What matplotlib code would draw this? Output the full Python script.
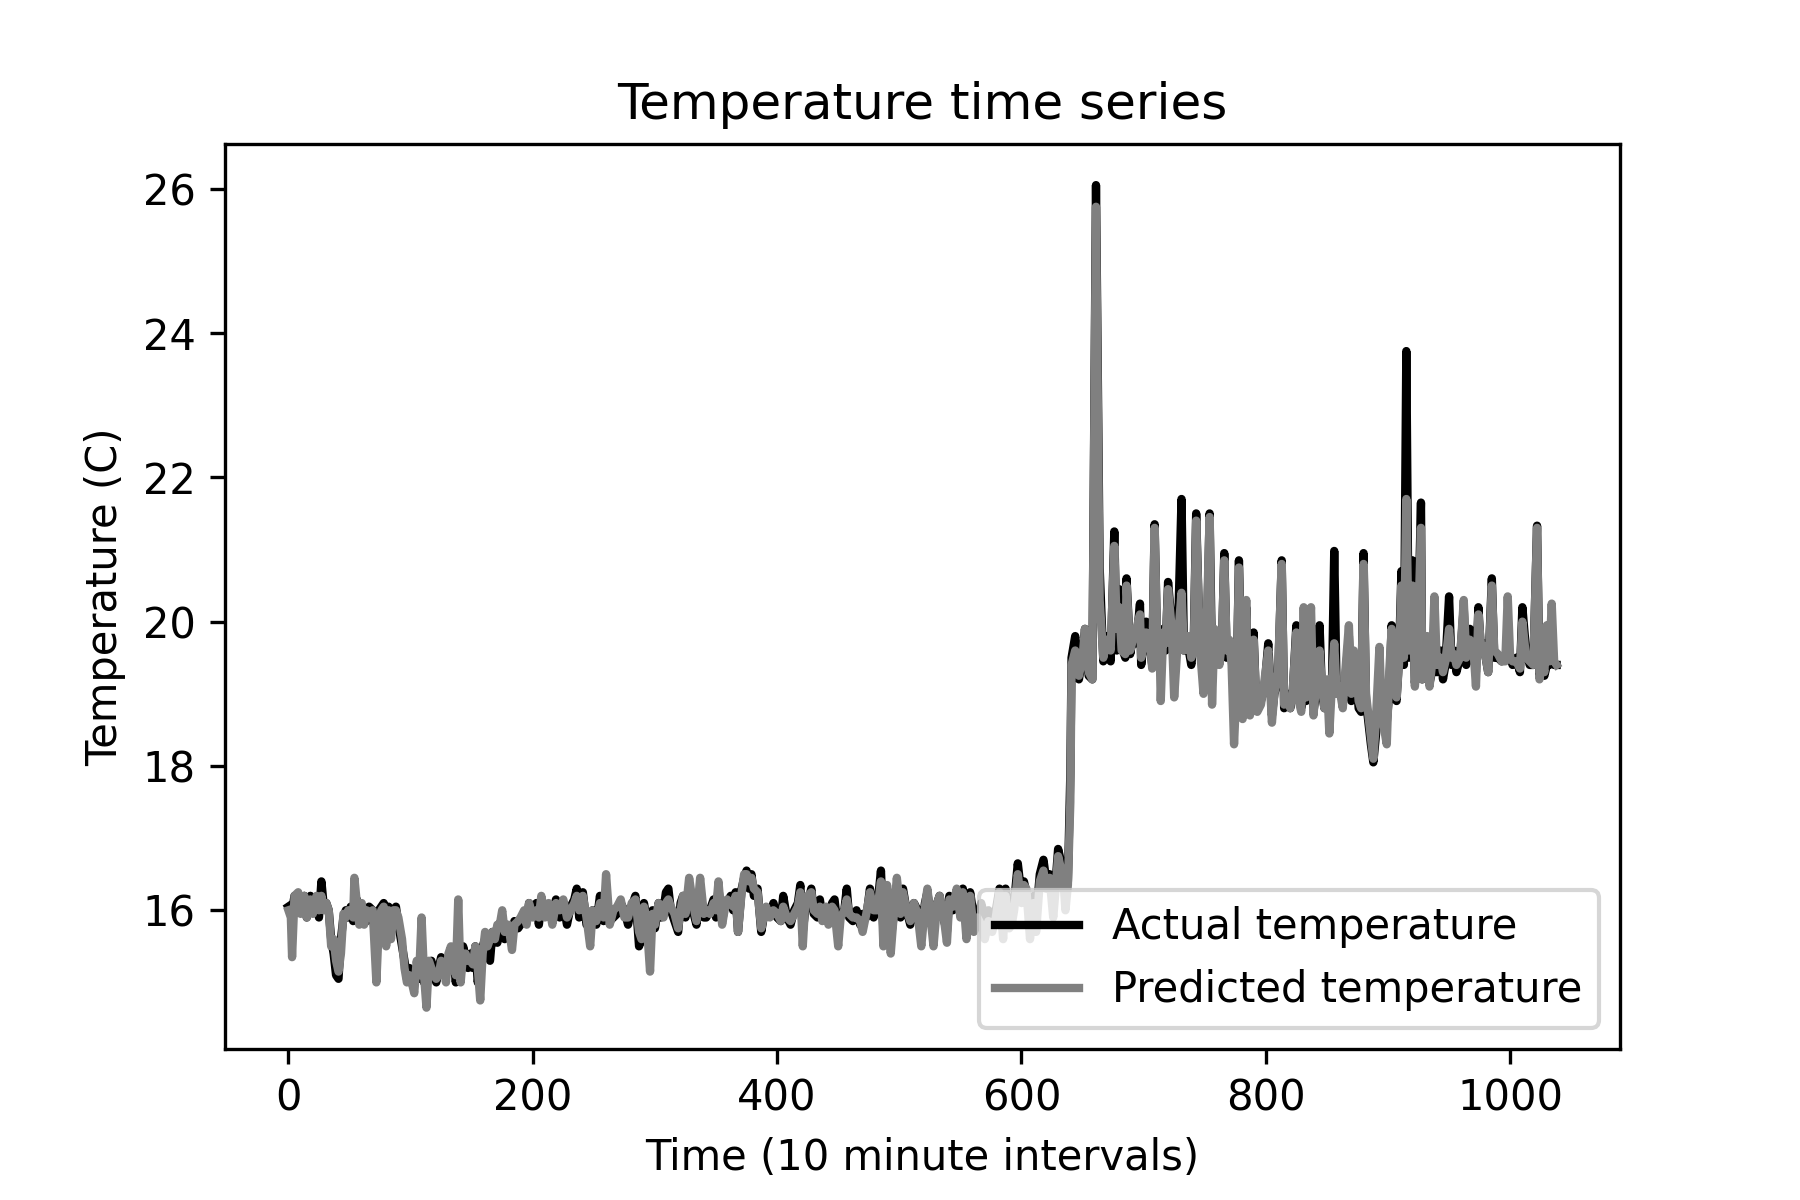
import numpy as np
import matplotlib.pyplot as plt

# time index (10 minute steps)
time = [
    0, 2, 3, 5, 8, 10, 13, 15, 18, 20, 23, 25, 27, 29, 31, 33, 35, 37, 39, 41,
    43, 45, 47, 49, 51, 53, 54, 56, 58, 60, 62, 64, 66, 69, 72, 74, 76, 78, 80, 82,
    84, 86, 88, 90, 93, 95, 97, 99, 101, 103, 105, 107, 109, 111, 113, 115, 117, 119, 121, 123,
    125, 127, 129, 131, 133, 135, 137, 139, 141, 143, 145, 147, 149, 151, 153, 155, 157, 159, 161, 163,
    165, 167, 169, 171, 173, 175, 177, 180, 183, 185, 188, 190, 193, 195, 197, 200, 203, 205, 207, 210,
    213, 216, 219, 222, 225, 228, 231, 234, 236, 238, 241, 244, 247, 249, 252, 255, 258, 260, 263, 266,
    269, 272, 275, 278, 281, 284, 287, 289, 291, 293, 296, 298, 300, 303, 305, 307, 309, 311, 313, 316,
    319, 321, 323, 325, 328, 331, 334, 337, 340, 342, 345, 348, 350, 352, 355, 357, 359, 362, 364, 366,
    368, 371, 373, 375, 377, 379, 381, 384, 387, 389, 391, 394, 397, 400, 403, 405, 408, 411, 414, 417,
    419, 421, 423, 425, 428, 430, 433, 435, 437, 440, 442, 445, 447, 450, 452, 455, 457, 459, 462, 465,
    468, 470, 473, 476, 479, 482, 485, 487, 490, 493, 496, 498, 501, 503, 506, 509, 512, 515, 518, 521,
    523, 525, 528, 531, 533, 536, 539, 541, 544, 547, 550, 552, 555, 558, 561, 564, 567, 570, 573, 576,
    579, 582, 585, 587, 590, 592, 594, 597, 600, 602, 604, 607, 610, 612, 615, 618, 620, 623, 626, 628,
    630, 632, 634, 636, 638, 640, 641, 644, 647, 650, 652, 655, 658, 661, 664, 667, 670, 673, 676, 678,
    680, 682, 685, 686, 689, 692, 694, 697, 698, 702, 705, 707, 709, 711, 713, 714, 716, 718, 720, 723,
    725, 728, 731, 733, 735, 737, 739, 741, 743, 746, 749, 752, 754, 756, 758, 760, 762, 764, 766, 768,
    770, 772, 774, 776, 778, 781, 784, 785, 787, 789, 790, 792, 793, 796, 799, 802, 805, 807, 810, 813,
    815, 818, 820, 822, 825, 827, 829, 831, 833, 835, 837, 839, 841, 844, 846, 848, 850, 852, 854, 856,
    858, 860, 863, 865, 868, 870, 872, 874, 876, 878, 880, 882, 884, 886, 888, 890, 893, 895, 896, 899,
    901, 903, 905, 907, 909, 911, 913, 915, 917, 920, 922, 924, 927, 928, 930, 932, 934, 936, 938, 940,
    943, 945, 947, 950, 952, 954, 956, 959, 962, 964, 967, 969, 970, 972, 974, 976, 978, 980, 982, 985,
    987, 990, 993, 996, 998, 1000, 1002, 1005, 1008, 1010, 1013, 1016, 1019, 1022, 1024, 1026, 1028, 1030, 1032, 1034,
    1036, 1038,
]

actual = [
    16.05, 16.0, 16.0, 16.2, 16.15, 16.0, 16.2, 15.9, 16.2, 16.0, 16.15, 15.9, 16.4, 16.05, 16.1, 16.0, 15.6, 15.4, 15.1, 15.05,
    15.6, 15.9, 16.0, 15.9, 16.05, 15.85, 16.1, 16.15, 15.9, 16.05, 15.9, 15.85, 16.05, 16.0, 15.4, 16.0, 16.05, 16.1, 15.6, 16.05,
    15.7, 15.9, 16.05, 15.8, 15.5, 15.3, 15.05, 15.2, 15.0, 15.1, 15.2, 15.05, 15.3, 15.0, 15.1, 15.2, 15.3, 15.15, 15.0, 15.2,
    15.35, 15.2, 15.1, 15.3, 15.2, 15.4, 15.0, 15.3, 15.1, 15.5, 15.35, 15.2, 15.4, 15.2, 15.5, 15.0, 15.3, 15.5, 15.6, 15.45,
    15.3, 15.7, 15.6, 15.55, 15.7, 15.75, 15.6, 15.7, 15.6, 15.85, 15.75, 15.8, 15.9, 15.85, 16.1, 15.95, 16.1, 15.8, 16.1, 15.95,
    16.05, 15.9, 16.15, 15.9, 16.1, 15.8, 16.05, 16.15, 16.3, 15.9, 16.25, 15.8, 15.9, 16.0, 15.8, 16.2, 15.85, 15.9, 15.85, 15.9,
    15.95, 16.1, 16.0, 15.8, 16.05, 16.2, 15.5, 15.6, 16.1, 15.9, 15.8, 16.0, 15.75, 16.1, 15.9, 16.0, 16.25, 16.3, 16.0, 15.85,
    15.7, 16.1, 16.2, 15.9, 16.3, 16.0, 15.8, 16.3, 15.9, 15.9, 16.0, 16.15, 15.9, 16.3, 15.85, 16.05, 16.1, 16.2, 16.0, 16.25,
    15.7, 16.3, 16.45, 16.55, 16.3, 16.5, 16.2, 16.3, 15.7, 15.9, 16.0, 15.95, 16.1, 15.9, 15.85, 16.2, 15.9, 15.8, 16.0, 16.1,
    16.35, 15.7, 16.0, 16.1, 16.3, 15.95, 15.9, 16.15, 15.9, 16.0, 15.9, 16.1, 16.15, 15.7, 15.95, 16.0, 16.3, 15.9, 15.85, 16.0,
    15.8, 15.95, 15.9, 16.3, 15.9, 16.05, 16.55, 15.7, 16.3, 15.6, 16.0, 16.1, 15.9, 16.3, 16.0, 15.8, 16.1, 16.0, 15.7, 16.1,
    16.25, 16.0, 15.7, 16.1, 16.2, 15.9, 15.7, 16.2, 16.0, 16.25, 16.0, 16.3, 15.8, 16.25, 15.9, 15.85, 16.1, 15.9, 16.0, 15.9,
    16.0, 16.3, 16.05, 16.3, 16.0, 16.0, 16.1, 16.65, 16.2, 16.4, 16.25, 16.0, 16.2, 15.9, 16.5, 16.7, 16.45, 16.5, 16.2, 16.4,
    16.85, 16.7, 16.6, 16.3, 16.4, 17.9, 19.5, 19.8, 19.2, 19.5, 19.9, 19.25, 19.2, 26.05, 20.75, 19.45, 19.8, 19.45, 21.25, 19.6,
    20.45, 19.65, 19.5, 20.6, 19.55, 19.85, 19.7, 20.25, 19.4, 20.0, 19.7, 19.4, 21.35, 19.7, 19.65, 19.5, 19.9, 19.6, 20.55, 19.95,
    19.5, 19.8, 21.7, 19.6, 19.75, 19.6, 19.4, 19.7, 21.5, 19.6, 19.4, 19.9, 21.5, 19.4, 19.8, 19.7, 19.45, 19.6, 20.95, 19.5,
    19.7, 19.5, 19.5, 19.0, 20.85, 18.7, 20.2, 18.9, 18.75, 19.2, 19.85, 18.9, 18.8, 18.9, 19.1, 19.7, 18.7, 19.0, 19.2, 20.85,
    18.8, 19.0, 18.8, 19.0, 19.95, 19.0, 18.8, 19.0, 18.9, 19.75, 19.6, 18.75, 19.0, 19.95, 19.0, 18.8, 19.1, 18.9, 19.0, 20.98,
    19.0, 19.05, 18.9, 19.2, 19.8, 18.9, 19.5, 19.2, 18.8, 18.75, 20.95, 18.9, 18.6, 18.3, 18.05, 18.4, 19.0, 18.8, 18.6, 18.6,
    19.0, 19.95, 19.0, 18.9, 19.5, 20.7, 19.4, 23.75, 19.5, 20.85, 19.15, 19.5, 21.65, 19.2, 19.4, 19.6, 19.15, 19.3, 19.9, 19.3,
    19.6, 19.2, 19.4, 20.35, 19.4, 19.6, 19.3, 19.5, 20.2, 19.4, 19.9, 19.5, 19.6, 19.3, 20.2, 19.6, 19.7, 19.5, 19.3, 20.6,
    19.5, 19.5, 19.45, 19.5, 19.6, 19.5, 19.4, 19.5, 19.3, 20.2, 19.6, 19.4, 19.4, 21.33, 19.25, 19.4, 19.25, 19.4, 19.4, 19.5,
    19.4, 19.4,
]

predicted = [
    16.0, 15.9, 15.35, 16.2, 16.25, 15.95, 16.2, 15.9, 16.15, 15.95, 16.2, 16.0, 16.2, 16.0, 16.1, 16.0, 15.5, 15.6, 15.3, 15.15,
    15.4, 15.95, 15.9, 16.0, 16.0, 15.9, 16.45, 16.1, 15.8, 16.1, 15.8, 16.0, 15.9, 16.0, 15.0, 15.8, 16.0, 16.05, 15.5, 16.0,
    15.6, 16.0, 16.0, 15.9, 15.6, 15.2, 15.0, 15.1, 15.0, 14.85, 15.3, 15.1, 15.9, 15.1, 14.65, 15.3, 15.2, 15.1, 15.05, 15.1,
    15.3, 15.2, 15.0, 15.4, 15.5, 15.3, 15.1, 16.15, 15.0, 15.4, 15.4, 15.3, 15.3, 15.25, 15.5, 15.2, 14.75, 15.4, 15.7, 15.5,
    15.6, 15.7, 15.6, 15.8, 15.8, 16.0, 15.7, 15.8, 15.45, 15.8, 15.85, 15.9, 16.0, 15.8, 16.1, 15.9, 16.0, 15.9, 16.2, 15.9,
    16.1, 15.8, 16.1, 16.0, 16.15, 15.9, 16.0, 16.1, 16.2, 16.0, 16.2, 15.9, 15.5, 16.0, 15.85, 16.1, 15.9, 16.5, 15.8, 16.0,
    16.05, 16.15, 15.9, 15.9, 16.1, 16.15, 15.7, 15.6, 16.05, 15.9, 15.15, 15.95, 15.8, 16.1, 16.0, 15.9, 16.1, 16.15, 16.05, 15.95,
    15.75, 16.0, 16.2, 15.95, 16.45, 16.1, 15.85, 16.45, 15.95, 16.0, 15.95, 16.1, 16.0, 16.4, 15.8, 16.0, 16.15, 16.1, 16.05, 16.2,
    15.7, 16.25, 16.5, 16.5, 16.4, 16.45, 16.3, 16.25, 15.75, 15.9, 16.05, 15.9, 16.0, 15.95, 15.85, 16.05, 15.9, 15.85, 15.95, 16.05,
    16.25, 15.5, 16.1, 16.2, 16.25, 16.0, 15.95, 16.05, 15.85, 16.05, 15.8, 16.05, 16.0, 15.5, 15.9, 16.0, 16.15, 15.95, 15.9, 15.9,
    15.85, 15.7, 15.95, 16.25, 16.0, 16.0, 16.4, 15.5, 16.35, 15.4, 16.05, 16.45, 15.95, 16.25, 16.0, 15.85, 16.1, 15.95, 15.5, 16.05,
    16.3, 16.0, 15.5, 16.1, 16.2, 15.95, 15.55, 16.15, 16.05, 16.3, 15.9, 16.25, 15.6, 16.2, 15.7, 15.9, 15.8, 15.6, 15.85, 15.7,
    15.9, 16.25, 15.6, 16.2, 15.75, 15.8, 16.0, 16.5, 16.1, 16.35, 16.3, 15.6, 16.1, 15.7, 16.4, 16.55, 16.3, 16.45, 15.9, 16.3,
    16.75, 16.6, 16.5, 16.0, 16.35, 17.5, 19.4, 19.6, 19.25, 19.5, 19.9, 19.3, 19.2, 25.75, 20.3, 19.5, 19.75, 19.6, 21.05, 19.9,
    20.2, 19.6, 19.55, 20.5, 19.6, 19.8, 19.9, 20.1, 19.5, 19.85, 19.75, 19.35, 21.3, 19.8, 19.7, 18.9, 19.85, 19.7, 20.45, 19.9,
    18.95, 19.75, 20.4, 19.6, 19.7, 19.8, 19.5, 19.6, 21.4, 19.65, 19.0, 20.2, 21.45, 18.85, 19.9, 19.8, 19.4, 19.7, 20.85, 19.6,
    19.75, 19.4, 18.3, 19.1, 20.75, 18.65, 20.3, 19.0, 18.7, 19.1, 19.75, 18.95, 18.75, 18.85, 19.2, 19.6, 18.6, 19.0, 19.3, 20.8,
    18.85, 18.9, 18.8, 19.05, 19.85, 18.9, 18.75, 20.2, 18.95, 19.6, 20.2, 18.7, 19.1, 19.6, 19.1, 18.8, 19.2, 18.45, 19.1, 19.7,
    19.0, 19.1, 18.8, 19.3, 19.95, 19.0, 19.6, 19.3, 18.9, 18.8, 20.8, 19.0, 18.7, 18.4, 18.1, 18.6, 19.65, 18.7, 18.6, 18.3,
    19.3, 19.9, 19.2, 18.95, 19.4, 20.5, 19.5, 21.7, 19.6, 20.5, 19.1, 19.5, 21.3, 19.2, 19.5, 19.8, 19.1, 19.4, 20.35, 19.4,
    19.5, 19.3, 19.45, 19.9, 19.5, 19.55, 19.4, 19.5, 20.3, 19.5, 19.75, 19.6, 19.6, 19.1, 20.1, 19.7, 19.65, 19.5, 19.3, 20.5,
    19.6, 19.55, 19.45, 19.45, 20.35, 19.5, 19.45, 19.45, 19.35, 20.0, 19.5, 19.45, 19.4, 21.3, 19.2, 19.45, 19.3, 19.95, 19.45, 20.25,
    19.45, 19.4,
]

fig = plt.figure(figsize=(6, 4), dpi=300)
plt.plot(time, actual, color='black', lw=2, label='Actual temperature')
plt.plot(time, predicted, color='grey', lw=2, label='Predicted temperature')
plt.title('Temperature time series')
plt.xlabel('Time (10 minute intervals)')
plt.ylabel('Temperature (C)')
plt.legend(loc='lower right')
plt.subplots_adjust(bottom=0.126)
plt.savefig('out.png', dpi=300)
